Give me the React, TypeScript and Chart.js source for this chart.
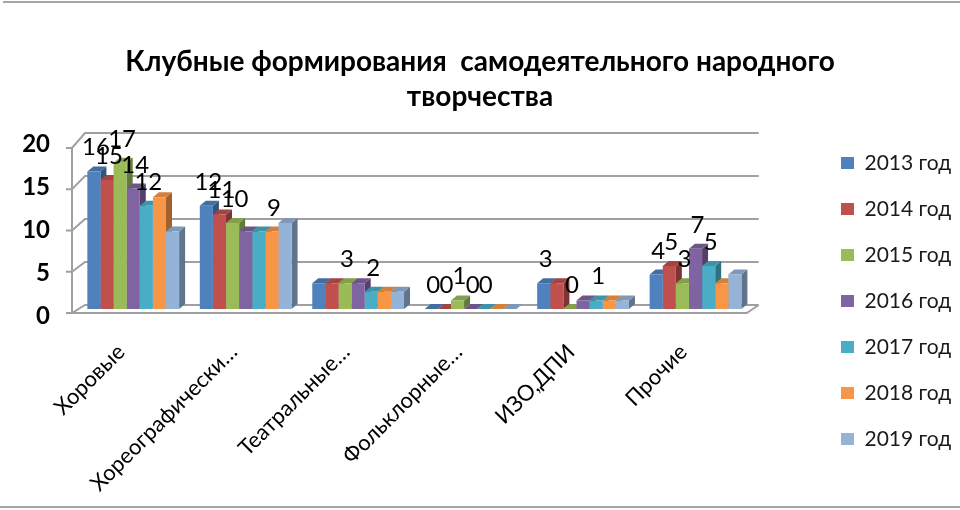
import React, { useEffect, useRef } from "react";
import { Chart, registerables } from "chart.js";

Chart.register(...registerables);

const categories = ["Хоровые", "Хореографически…", "Театральные…", "Фольклорные…", "ИЗО,ДПИ", "Прочие"];
const years = ["2013 год", "2014 год", "2015 год", "2016 год", "2017 год", "2018 год", "2019 год"];

const values2013 = [16, 12, 3, 0, 3, 4];
const values2014 = [15, 11, 3, 0, 3, 5];
const values2015 = [17, 10, 3, 1, 0, 3];
const values2016 = [14, 9, 3, 0, 1, 7];
const values2017 = [12, 9, 2, 0, 1, 5];
const values2018 = [13, 9, 2, 0, 1, 3];
const values2019 = [9, 10, 2, 0, 1, 4];

// value labels that are visible in the source (the rest are hidden by overlap)
const shown2013 = [true, true, false, true, true, true];
const shown2014 = [true, true, false, true, false, true];
const shown2015 = [true, true, true, true, true, true];
const shown2016 = [true, false, false, true, false, true];
const shown2017 = [true, false, true, true, true, true];
const shown2018 = [false, true, false, false, false, false];
const shown2019 = [false, false, false, false, false, false];

const yTicks = [0, 5, 10, 15, 20];

const colors = ["#4F81BD", "#C0504D", "#9BBB59", "#8064A2", "#4BACC6", "#F79646", "#95B3D7"];
const FONT = "Lato, 'Open Sans', sans-serif";

const allValues = [values2013, values2014, values2015, values2016, values2017, values2018, values2019];
const allShown = [shown2013, shown2014, shown2015, shown2016, shown2017, shown2018, shown2019];

function shade(hex: string, f: number) {
  const n = parseInt(hex.slice(1), 16);
  const mix = (c: number) => Math.round(f < 0 ? c * (1 + f) : c + (255 - c) * f);
  const r = mix((n >> 16) & 255), g = mix((n >> 8) & 255), b = mix(n & 255);
  return `rgb(${r},${g},${b})`;
}

// back wall, floor and the depth faces of the bars
const depthPlugin = {
  id: "depth",
  beforeDatasetsDraw(chart: any) {
    const { ctx, chartArea, scales } = chart;
    const { left, right } = chartArea;
    const y = scales.y;
    const p0 = y.getPixelForValue(0);
    const back = (v: number) => y.getPixelForValue(v) - 4;
    const front = (v: number) => {
      const p = y.getPixelForValue(v);
      return p + 4 + (p0 - p) * 0.04;
    };
    const top = yTicks[yTicks.length - 1];

    ctx.save();
    ctx.strokeStyle = "#a0a0a0";
    ctx.lineWidth = 2;
    yTicks.forEach((v) => {
      ctx.beginPath();
      ctx.moveTo(left - 11, front(v));
      ctx.lineTo(left - 5, front(v));
      ctx.lineTo(left + 8, back(v));
      ctx.lineTo(right + 7, back(v));
      ctx.stroke();
    });
    ctx.beginPath();
    ctx.moveTo(left - 5, front(top));
    ctx.lineTo(left - 5, front(0));
    ctx.lineTo(right - 5, front(0));
    ctx.lineTo(right + 7, back(0));
    ctx.stroke();

    const dx = 6, dy = -5;
    chart.data.datasets.forEach((_: any, i: number) => {
      const meta = chart.getDatasetMeta(i);
      meta.data.forEach((bar: any) => {
        const { x, y: t, base, width } = bar.getProps(["x", "y", "base", "width"], true);
        const x0 = x - width / 2, x1 = x + width / 2;
        ctx.fillStyle = shade(colors[i], -0.35);
        ctx.beginPath();
        ctx.moveTo(x1, t);
        ctx.lineTo(x1 + dx, t + dy);
        ctx.lineTo(x1 + dx, base + dy);
        ctx.lineTo(x1, base);
        ctx.closePath();
        ctx.fill();
        ctx.fillStyle = shade(colors[i], -0.15);
        ctx.beginPath();
        ctx.moveTo(x0, t);
        ctx.lineTo(x0 + dx, t + dy);
        ctx.lineTo(x1 + dx, t + dy);
        ctx.lineTo(x1, t);
        ctx.closePath();
        ctx.fill();
      });
    });
    ctx.restore();
  },
  afterDatasetsDraw(chart: any) {
    const { ctx } = chart;
    ctx.save();
    ctx.font = `24px ${FONT}`;
    ctx.fillStyle = "#000";
    ctx.textAlign = "center";
    ctx.textBaseline = "alphabetic";
    chart.data.datasets.forEach((ds: any, i: number) => {
      const meta = chart.getDatasetMeta(i);
      meta.data.forEach((bar: any, j: number) => {
        if (!allShown[i][j]) return;
        ctx.fillText(String(ds.data[j]), bar.x + 2, bar.y - 16);
      });
    });
    ctx.restore();
  },
  afterLayout(chart: any) {
    // legend sits further right and lower, title is centred on the whole picture
    const lg = chart.legend;
    if (lg) {
      const sx = 816 - lg.left;
      lg.left += sx;
      lg.right += sx;
      lg.top += 46;
      lg.bottom += 46;
    }
    const tb = chart.titleBlock;
    if (tb) {
      tb.left = 0;
      tb.right = chart.width;
      tb.width = chart.width;
    }
  },
};

const App: React.FC = () => {
  const canvasRef = useRef<HTMLCanvasElement | null>(null);

  useEffect(() => {
    if (!canvasRef.current) return;

    const chart = new Chart(canvasRef.current, {
      type: "bar",
      data: {
        labels: categories,
        datasets: years.map((label, i) => ({
          label,
          data: allValues[i],
          backgroundColor: colors[i],
          borderWidth: 0,
          barPercentage: 1,
          categoryPercentage: 0.816,
        })),
      },
      options: {
        responsive: false,
        animation: false,
        layout: { padding: { left: 0, right: 63, top: 0, bottom: 0 } },
        plugins: {
          tooltip: { enabled: false },
          title: {
            display: true,
            text: ["Клубные формирования  самодеятельного народного", "творчества"],
            color: "#000",
            font: { family: FONT, size: 28, weight: "bold", lineHeight: 1.25 },
            padding: { top: 44, bottom: 23 },
          },
          legend: {
            position: "right",
            labels: {
              boxWidth: 13,
              boxHeight: 12,
              padding: 25,
              color: "#1a1a1a",
              font: { family: FONT, size: 21 },
            },
          },
        },
        scales: {
          x: {
            grid: { display: false },
            border: { display: false },
            ticks: {
              autoSkip: false,
              minRotation: 45,
              maxRotation: 45,
              padding: 22,
              labelOffset: -12,
              color: "#000",
              font: { family: FONT, size: 22 },
            },
            afterFit: (scale: any) => {
              scale.height = 201;
            },
          },
          y: {
            min: 0,
            max: 20,
            grid: { display: false, drawTicks: false },
            border: { display: false },
            ticks: {
              stepSize: 5,
              padding: 27,
              labelOffset: 7,
              color: "#000",
              font: { family: FONT, size: 24, weight: "bold" },
            },
            afterFit: (scale: any) => {
              scale.width = 77;
            },
          },
        },
      },
      plugins: [depthPlugin],
    } as any);

    return () => chart.destroy();
  }, []);

  return (
    <div style={{ position: "fixed", left: 0, top: 0, width: 960, height: 510, background: "#fff" }}>
      <div style={{ position: "absolute", left: 3, right: 0, top: 1, height: 2, background: "#a6a6a6" }} />
      <div style={{ position: "absolute", left: 0, right: 0, top: 506, height: 2, background: "#a6a6a6" }} />
      <canvas ref={canvasRef} width={960} height={510} style={{ position: "absolute", left: 0, top: 0 }} />
    </div>
  );
};

export default App;
